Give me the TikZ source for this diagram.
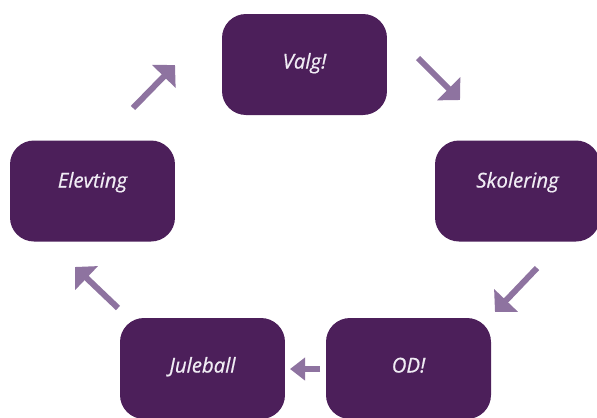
\documentclass[tikz,border=0pt]{standalone}
\usepackage{fontspec}
\setmainfont{Open Sans}
\newfontfamily\stagefont[FakeBold=0.7]{Open Sans}
\usepackage{xcolor}
\usetikzlibrary{arrows.meta}
\definecolor{boxpurple}{RGB}{76,31,90}
\definecolor{arrowpurple}{RGB}{142,115,160}
\definecolor{stagetext}{RGB}{240,236,244}

\begin{document}
\begin{tikzpicture}[x=0.05cm,y=-0.05cm,
  stage/.style={rectangle,rounded corners=12mm,fill=boxpurple,text=stagetext,
    minimum width=82.5mm,minimum height=50.5mm,text height=5mm,text depth=1mm,
    font=\stagefont\itshape\fontsize{29}{30}\selectfont},
  raised/.style={text depth=8.5mm},
  flow/.style={arrowpurple,line width=3mm,-{Triangle[length=8mm,width=16mm]}}]
  \useasboundingbox (0,0) rectangle (597,417);

  % the five steps of the year
  \node[stage] (valg)      at (304.5,64.5)  {Valg!};
  \node[stage,raised] (skolering) at (517.5,191) {Skolering};
  \node[stage] (od)        at (408.5,368.5) {OD!};
  \node[stage] (juleball)  at (202.5,368.5) {Juleball};
  \node[stage,raised] (elevting)  at (92.5,191)  {Elevting};

  % arrow ends between the boxes
  \coordinate (a1s) at (418,58);  \coordinate (a1e) at (460,100);
  \coordinate (a2s) at (537,268); \coordinate (a2e) at (495,312);
  \coordinate (a3s) at (320,369); \coordinate (a3e) at (290,369);
  \coordinate (a4s) at (118,308); \coordinate (a4e) at (75,267);
  \coordinate (a5s) at (133,108); \coordinate (a5e) at (175,65);

  \draw[flow] (a1s) -- (a1e);
  \draw[flow] (a2s) -- (a2e);
  \draw[flow,-{Triangle[length=7.5mm,width=11mm]}] (a3s) -- (a3e);
  \draw[flow] (a4s) -- (a4e);
  \draw[flow] (a5s) -- (a5e);
\end{tikzpicture}
\end{document}
